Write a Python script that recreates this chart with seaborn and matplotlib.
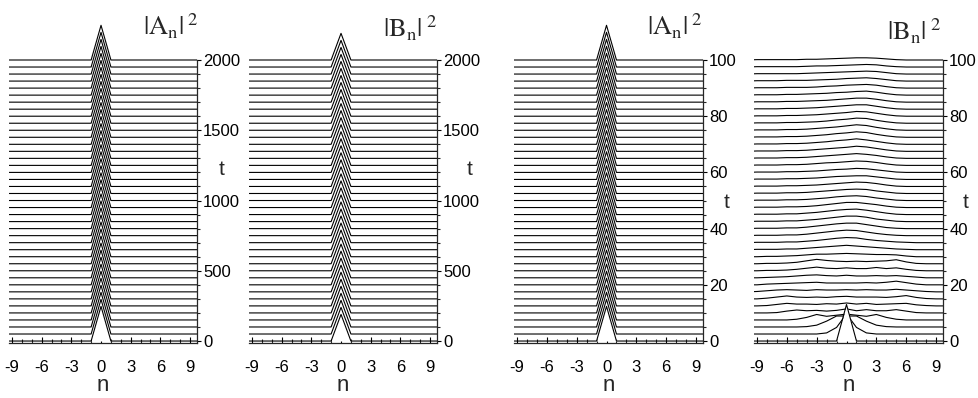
import numpy as np
import pandas as pd
import seaborn as sns
import matplotlib
matplotlib.use("Agg")
import matplotlib.pyplot as plt
from matplotlib.ticker import FixedLocator

sns.set_theme(style="ticks")
plt.rcParams['font.family'] = ['Liberation Sans', 'DejaVu Sans']
plt.rcParams['mathtext.fontset'] = 'stix'
plt.rcParams['axes.unicode_minus'] = False

# ---------------- data ----------------
n_sites = [-10, -9, -8, -7, -6, -5, -4, -3, -2, -1, 0, 1, 2, 3, 4, 5, 6, 7, 8, 9, 10]

t_long = [0, 50, 100, 150, 200, 250, 300, 350, 400, 450, 500, 550, 600, 650, 700,
          750, 800, 850, 900, 950, 1000, 1050, 1100, 1150, 1200, 1250, 1300, 1350,
          1400, 1450, 1500, 1550, 1600, 1650, 1700, 1750, 1800, 1850, 1900, 1950, 2000]
t_short = [0, 2.5, 5, 7.5, 10, 12.5, 15, 17.5, 20, 22.5, 25, 27.5, 30, 32.5, 35, 37.5,
           40, 42.5, 45, 47.5, 50, 52.5, 55, 57.5, 60, 62.5, 65, 67.5, 70, 72.5, 75,
           77.5, 80, 82.5, 85, 87.5, 90, 92.5, 95, 97.5, 100]

# peak intensity at n = 0 (all other sites ~0) for the localized panels
A_peak_long = [0.95, 0.95, 0.95, 0.95, 0.95, 0.95, 0.95, 0.95, 0.95, 0.95, 0.95,
               0.95, 0.95, 0.95, 0.95, 0.95, 0.95, 0.95, 0.95, 0.95, 0.95, 0.95,
               0.95, 0.95, 0.95, 0.95, 0.95, 0.95, 0.95, 0.95, 0.95, 0.95, 0.95,
               0.95, 0.95, 0.95, 0.95, 0.95, 0.95, 0.95, 0.95]
B_peak_long = [0.73, 0.73, 0.73, 0.73, 0.73, 0.73, 0.73, 0.73, 0.73, 0.73, 0.73,
               0.73, 0.73, 0.73, 0.73, 0.73, 0.73, 0.73, 0.73, 0.73, 0.73, 0.73,
               0.73, 0.73, 0.73, 0.73, 0.73, 0.73, 0.73, 0.73, 0.73, 0.73, 0.73,
               0.73, 0.73, 0.73, 0.73, 0.73, 0.73, 0.73, 0.73]
A_peak_short = [0.95, 0.95, 0.95, 0.95, 0.95, 0.95, 0.95, 0.95, 0.95, 0.95, 0.95,
                0.95, 0.95, 0.95, 0.95, 0.95, 0.95, 0.95, 0.95, 0.95, 0.95, 0.95,
                0.95, 0.95, 0.95, 0.95, 0.95, 0.95, 0.95, 0.95, 0.95, 0.95, 0.95,
                0.95, 0.95, 0.95, 0.95, 0.95, 0.95, 0.95, 0.95]

# |B_n|^2 spreading, rows = t_short, columns = n_sites
B_spread = [
    [0, 0, 0, 0, 0, 0, 0, 0, 0, 0, 1.00, 0, 0, 0, 0, 0, 0, 0, 0, 0, 0],
    [0, 0, 0, 0, 0, 0, 0, 0, .03, .18, .55, .18, .03, 0, 0, 0, 0, 0, 0, 0, 0],
    [0, 0, 0, 0, 0, 0, .01, .05, .16, .30, .30, .30, .16, .05, .01, 0, 0, 0, 0, 0, 0],
    [0, 0, 0, 0, 0, .02, .07, .15, .10, .13, .16, .13, .10, .15, .07, .02, 0, 0, 0, 0, 0],
    [0, 0, 0, .01, .05, .08, .06, .07, .05, .07, .11, .06, .09, .06, .06, .09, .05, .01, 0, 0, 0],
    [0, 0, .01, .04, .07, .05, .05, .04, .06, .05, .08, .05, .07, .04, .05, .06, .07, .03, .01, 0, 0],
    [0, 0, .02, .05, .08, .05, .04, .05, .04, .06, .07, .05, .05, .05, .04, .06, .09, .04, .01, 0, 0],
    [0, .01, .03, .05, .06, .05, .04, .06, .05, .05, .06, .05, .06, .05, .05, .07, .05, .03, .01, 0, 0],
    [0, 0, .02, .03, .04, .05, .06, .07, .05, .05, .05, .05, .06, .05, .07, .10, .06, .02, 0, 0, 0],
    [0, 0, .01, .02, .03, .05, .07, .08, .06, .05, .07, .05, .05, .06, .05, .06, .04, .02, 0, 0, 0],
    [0, 0, .01, .01, .02, .04, .07, .10, .07, .06, .08, .06, .06, .09, .06, .08, .04, .01, 0, 0, 0],
    [0, 0, .01, .01, .02, .04, .08, .12, .09, .07, .06, .07, .06, .07, .08, .11, .05, .01, 0, 0, 0],
    [0, 0, .01, .01, .02, .03, .05, .07, .07, .08, .09, .08, .07, .06, .06, .05, .02, 0, 0, 0, 0],
    [0, .01, .01, .01, .02, .02, .04, .06, .08, .10, .12, .10, .08, .06, .04, .02, .01, 0, 0, 0, 0],
    [0, .01, .01, .01, .02, .02, .04, .06, .09, .12, .14, .13, .09, .06, .04, .02, .01, 0, 0, 0, 0],
    [0, .01, .01, .01, .02, .02, .04, .07, .10, .13, .15, .14, .10, .06, .03, .01, 0, 0, 0, 0, 0],
    [0, .01, .01, .01, .02, .02, .04, .07, .10, .13, .15, .15, .11, .07, .03, .01, 0, 0, 0, 0, 0],
    [0, .01, .01, .01, .02, .02, .04, .06, .09, .12, .15, .15, .12, .07, .04, .01, 0, 0, 0, 0, 0],
    [0, .01, .01, .01, .02, .02, .04, .06, .09, .12, .14, .15, .12, .08, .04, .01, 0, 0, 0, 0, 0],
    [0, .01, .01, .01, .02, .02, .03, .05, .08, .11, .14, .14, .11, .08, .04, .01, 0, 0, 0, 0, 0],
    [0, .01, .01, .01, .02, .02, .03, .05, .07, .10, .12, .13, .11, .07, .04, .01, 0, 0, 0, 0, 0],
    [0, .01, .01, .01, .02, .02, .03, .05, .07, .09, .11, .12, .11, .07, .04, .01, 0, 0, 0, 0, 0],
    [0, .01, .01, .01, .02, .02, .03, .04, .06, .08, .10, .12, .11, .08, .04, .01, 0, 0, 0, 0, 0],
    [0, .01, .01, .01, .02, .02, .03, .04, .06, .08, .09, .10, .10, .07, .04, .01, 0, 0, 0, 0, 0],
    [0, .01, .01, .01, .02, .02, .03, .04, .06, .08, .09, .11, .10, .07, .04, .01, 0, 0, 0, 0, 0],
    [0, .01, .01, .01, .02, .02, .03, .05, .07, .08, .10, .12, .11, .08, .04, .01, 0, 0, 0, 0, 0],
    [0, .01, .01, .01, .02, .02, .03, .05, .07, .09, .11, .13, .11, .08, .04, .01, 0, 0, 0, 0, 0],
    [0, .01, .01, .01, .02, .02, .03, .05, .07, .09, .11, .14, .12, .08, .04, .01, 0, 0, 0, 0, 0],
    [0, .01, .01, .01, .02, .02, .03, .05, .07, .10, .12, .15, .12, .08, .04, .01, 0, 0, 0, 0, 0],
    [0, .01, .01, .01, .02, .02, .03, .05, .07, .10, .12, .15, .13, .08, .04, .01, 0, 0, 0, 0, 0],
    [0, .01, .01, .01, .02, .02, .03, .05, .07, .09, .12, .15, .13, .08, .04, .01, 0, 0, 0, 0, 0],
    [0, .01, .01, .01, .02, .02, .03, .04, .06, .09, .11, .14, .13, .08, .04, .01, 0, 0, 0, 0, 0],
    [0, .01, .01, .01, .02, .02, .03, .04, .06, .08, .10, .13, .12, .08, .04, .01, 0, 0, 0, 0, 0],
    [0, .01, .01, .01, .02, .02, .03, .04, .06, .08, .10, .12, .12, .08, .04, .01, 0, 0, 0, 0, 0],
    [0, .01, .01, .01, .02, .02, .03, .04, .05, .07, .09, .11, .11, .08, .04, .01, 0, 0, 0, 0, 0],
    [0, .01, .01, .01, .02, .02, .03, .04, .05, .07, .08, .10, .11, .08, .04, .01, 0, 0, 0, 0, 0],
    [0, .01, .01, .01, .02, .02, .02, .03, .05, .06, .08, .09, .10, .08, .04, .01, 0, 0, 0, 0, 0],
    [0, .01, .01, .01, .02, .02, .02, .03, .04, .05, .07, .08, .09, .07, .04, .01, 0, 0, 0, 0, 0],
    [0, .01, .01, .01, .01, .01, .02, .03, .04, .05, .06, .07, .08, .07, .04, .01, 0, 0, 0, 0, 0],
    [0, .01, .01, .01, .01, .01, .02, .03, .03, .04, .05, .06, .07, .06, .03, .01, 0, 0, 0, 0, 0],
    [0, .01, .01, .01, .01, .01, .02, .02, .03, .04, .05, .06, .06, .05, .03, .01, 0, 0, 0, 0, 0],
]

x_ticks = [-9, -6, -3, 0, 3, 6, 9]
t_ticks_long = [0, 500, 1000, 1500, 2000]
t_ticks_short = [0, 20, 40, 60, 80, 100]
titles = [r'$|\mathrm{A}_{\mathrm{n}}|^{\;2}$', r'$|\mathrm{B}_{\mathrm{n}}|^{\;2}$',
          r'$|\mathrm{A}_{\mathrm{n}}|^{\;2}$', r'$|\mathrm{B}_{\mathrm{n}}|^{\;2}$']


def peak_rows(peaks):
    rows = []
    for p in peaks:
        r = [0.0] * len(n_sites)
        r[n_sites.index(0)] = p
        rows.append(r)
    return rows


# ---------------- figure ----------------
W, H = 979, 398
fig = plt.figure(figsize=(W / 100, H / 100), dpi=100)

Y_AX, Y_TOP_T, Y_FIG_TOP = 343, 60, 8
panels = [
    dict(x0=9, x1=197, times=t_long, rows=peak_rows(A_peak_long), R=2000,
         majors=t_ticks_long, minor=100, title=(143, 35), tlab=(222, 170)),
    dict(x0=249, x1=437, times=t_long, rows=peak_rows(B_peak_long), R=2000,
         majors=t_ticks_long, minor=100, title=(383, 37), tlab=(470, 170)),
    dict(x0=514, x1=703, times=t_short, rows=peak_rows(A_peak_short), R=100,
         majors=t_ticks_short, minor=5, title=(647, 35), tlab=(727, 202)),
    dict(x0=754, x1=943, times=t_short, rows=B_spread, R=100,
         majors=t_ticks_short, minor=5, title=(887, 40), tlab=(966, 202)),
]

for i, p in enumerate(panels):
    ax = fig.add_axes([p['x0'] / W, (H - Y_AX) / H, (p['x1'] - p['x0']) / W,
                       (Y_AX - Y_FIG_TOP) / H])
    R = p['R']
    L = -0.007 * R
    ppu = (Y_AX - Y_TOP_T) / (R - L)
    Htop = R + (Y_TOP_T - Y_FIG_TOP) / ppu
    scale = 0.13 * R

    times, rows = p['times'], p['rows']
    nr = len(times)
    for k in range(nr - 1, -1, -1):
        t = times[k]
        y = t + scale * np.array(rows[k])
        z = 2 + 2 * (nr - k)
        ax.fill_between(n_sites, t, y, color='white', lw=0, zorder=z)
        df = pd.DataFrame({'n': n_sites, 'y': y})
        sns.lineplot(data=df, x='n', y='y', color='black', lw=0.8, ax=ax,
                     zorder=z + 1, sort=False, estimator=None)

    ax.set_xlim(-9.3, 9.7)
    ax.set_ylim(L, Htop)
    ax.patch.set_alpha(0)
    for s in ['left', 'top']:
        ax.spines[s].set_visible(False)
    ax.spines['right'].set_bounds(L, R)
    ax.spines['right'].set_linewidth(0.9)
    ax.spines['bottom'].set_linewidth(0.9)
    ax.spines['right'].set_zorder(500)
    ax.spines['bottom'].set_zorder(500)
    ax.yaxis.tick_right()
    ax.yaxis.set_major_locator(FixedLocator(p['majors']))
    ax.yaxis.set_minor_locator(FixedLocator(list(np.arange(0, R + 0.01, p['minor']))))
    ax.xaxis.set_major_locator(FixedLocator(x_ticks))
    ax.xaxis.set_minor_locator(FixedLocator(list(range(-9, 10))))
    ax.tick_params(axis='y', which='major', direction='out', length=3, width=0.8,
                   labelsize=12, pad=1.5, colors='black')
    ax.tick_params(axis='y', which='minor', direction='out', length=2, width=0.8)
    ax.tick_params(axis='x', which='major', direction='in', length=4, width=0.8,
                   labelsize=12, pad=12, colors='black')
    ax.tick_params(axis='x', which='minor', direction='in', length=3, width=0.8)
    ax.set_ylabel('')
    ax.set_xlabel('n', fontsize=16, labelpad=0.5)

    fig.text(p['title'][0] / W, 1 - p['title'][1] / H, titles[i], fontsize=19,
             ha='left', va='baseline')
    fig.text(p['tlab'][0] / W, 1 - p['tlab'][1] / H, 't', fontsize=15,
             ha='center', va='center')

fig.savefig('out.png', dpi=100)
